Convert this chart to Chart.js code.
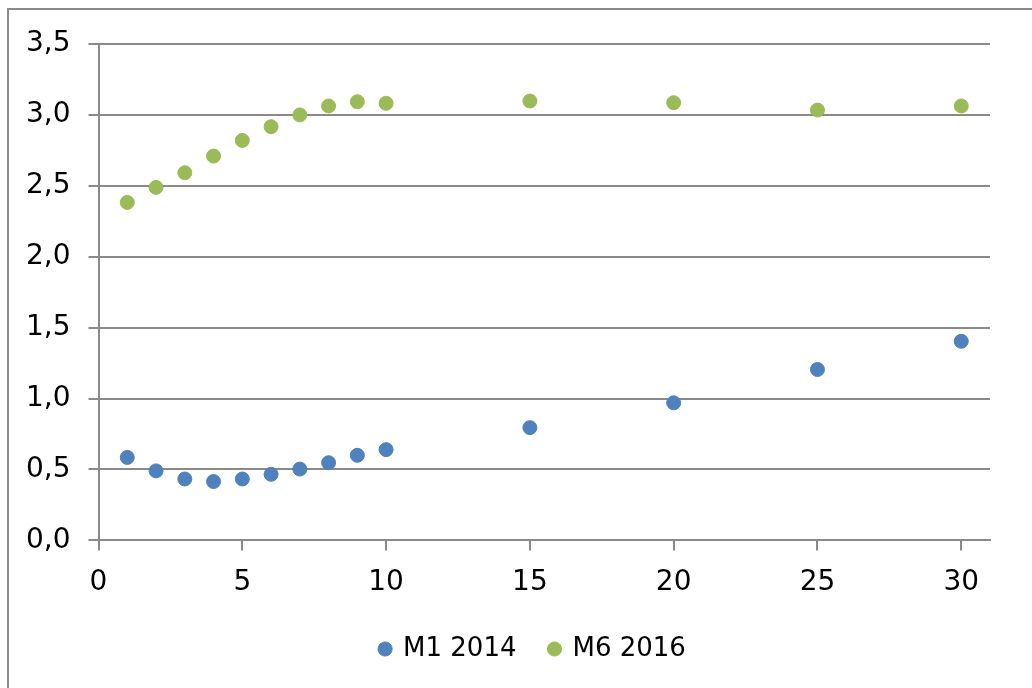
<!DOCTYPE html>
<html>
<head>
<meta charset="utf-8">
<script src="https://cdn.jsdelivr.net/npm/chart.js@4"></script>
<style>
  body { margin: 0; background: #fff; }
  #frame { position: absolute; left: 7px; top: 8px; width: 1200px; height: 900px; border-left: 2px solid #8a8a8a; border-top: 2px solid #8a8a8a; }
  #wrap { position: absolute; left: 0; top: 0; width: 1032px; height: 688px; }
</style>
</head>
<body>
<div id="frame"></div>
<div id="wrap"><canvas id="graph" width="1032" height="688"></canvas></div>
<script>
// days
const xs = [1, 2, 3, 4, 5, 6, 7, 8, 9, 10, 15, 20, 25, 30]
// values per series
const m1_2014 = [0.585, 0.49, 0.433, 0.415, 0.433, 0.466, 0.503, 0.548, 0.6, 0.64, 0.795, 0.97, 1.205, 1.404]
const m6_2016 = [2.383, 2.489, 2.592, 2.71, 2.82, 2.917, 3.0, 3.063, 3.093, 3.082, 3.098, 3.086, 3.034, 3.063]
const seriesNames = ['M1 2014', 'M6 2016']
const xTicks = [0, 5, 10, 15, 20, 25, 30]

const gridColor = '#8a8a8a'
Chart.defaults.font.family = 'DejaVu Sans'
Chart.defaults.font.size = 28
Chart.defaults.color = '#000'

function pts(vals){
	return xs.map((x, i) => ({x: x, y: vals[i]}))
}

// move the legend a bit right and up, like in the original
const shiftLegend = {
	id: 'shiftLegend',
	afterLayout(chart){
		const l = chart.legend
		l.left += 34; l.right += 34
		l.top -= 13; l.bottom -= 13
	}
}

const ctx = document.getElementById('graph');

new Chart(ctx, {
	type: 'scatter',
	data: {
		datasets: [{
			label: seriesNames[0],
			data: pts(m1_2014),
			backgroundColor: '#4f81bd',
			borderColor: '#4f81bd',
			pointRadius: 7,
			pointHoverRadius: 7
		},
		{
			label: seriesNames[1],
			data: pts(m6_2016),
			backgroundColor: '#9bbb59',
			borderColor: '#9bbb59',
			pointRadius: 7,
			pointHoverRadius: 7
		}]
	},
	plugins: [shiftLegend],
	options: {
		responsive: false,
		animation: false,
		devicePixelRatio: 1,
		layout: { padding: { left: 8, top: 44, right: 42, bottom: 3 } },
		plugins: {
			tooltip: { enabled: false },
			legend: {
				position: 'bottom',
				labels: { usePointStyle: true, pointStyle: 'circle', boxWidth: 10, boxHeight: 10, padding: 33, font: { size: 26 } }
			}
		},
		scales: {
			x: {
				type: 'linear',
				min: 0,
				max: 31,
				afterBuildTicks: s => { s.ticks = xTicks.map(v => ({value: v})) },
				ticks: { padding: 16, maxRotation: 0 },
				grid: { drawOnChartArea: false, color: gridColor, lineWidth: 2, tickLength: 10 },
				border: { color: gridColor, width: 2 }
			},
			y: {
				min: 0,
				max: 3.5,
				ticks: {
					stepSize: 0.5,
					padding: 18,
					callback: v => v.toFixed(1).replace('.', ',')
				},
				grid: { color: gridColor, lineWidth: 2, tickLength: 10 },
				border: { color: gridColor, width: 2 }
			}
		}
	}
});
</script>
</body>
</html>
